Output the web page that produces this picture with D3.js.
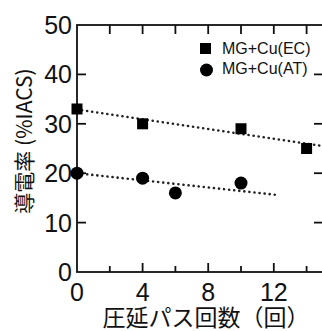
<!DOCTYPE html>
<html><head><meta charset="utf-8">
<script src="https://cdn.jsdelivr.net/npm/d3@7"></script>
<style>
html,body{margin:0;padding:0;background:#fff;overflow:hidden;}
svg{display:block;}
</style></head>
<body>
<svg id="c" width="322" height="331"></svg>
<script>
// Data
const passesEC = [0, 4, 10, 14];
const valuesEC = [33, 30, 29, 25];
const passesAT = [0, 4, 6, 10];
const valuesAT = [20, 19, 16, 18];
const trendEC = [[0, 32.9], [15, 25.5]];
const trendAT = [[0, 20.0], [12.2, 15.6]];
const xTicks = [0, 4, 8, 12];
const xMinorTicks = [2, 6, 10, 14];
const yTicks = [0, 10, 20, 30, 40, 50];
const legendLabels = ["MG+Cu(EC)", "MG+Cu(AT)"];
const xTitle = "圧延パス回数（回）";
const yTitle = "導電率 (%IACS)";

const svg = d3.select("#c");
const x = d3.scaleLinear().domain([0, 15]).range([77, 323]);
const y = d3.scaleLinear().domain([0, 50]).range([272, 25]);
const latin = "'Liberation Sans', Arial, Helvetica, sans-serif";
const cjk = "'Noto Sans CJK JP', 'Liberation Sans', sans-serif";

// frame
const g = svg.append("g");
g.append("rect").attr("x", x(0)).attr("y", y(50))
  .attr("width", x(15) - x(0)).attr("height", y(0) - y(50))
  .attr("fill", "none").attr("stroke", "#111").attr("stroke-width", 1.8);

// ticks inward
const major = 9, minor = 6;
xTicks.concat(xMinorTicks).forEach(t => {
  if (t === 0) return;
  const len = xTicks.includes(t) ? major : minor;
  g.append("line").attr("x1", x(t)).attr("x2", x(t)).attr("y1", y(0)).attr("y2", y(0) - len)
    .attr("stroke", "#111").attr("stroke-width", 1.8);
  g.append("line").attr("x1", x(t)).attr("x2", x(t)).attr("y1", y(50)).attr("y2", y(50) + major)
    .attr("stroke", "#111").attr("stroke-width", 1.8);
});
yTicks.forEach(t => {
  if (t === 0 || t === 50) return;
  g.append("line").attr("x1", x(0)).attr("x2", x(0) + major).attr("y1", y(t)).attr("y2", y(t))
    .attr("stroke", "#111").attr("stroke-width", 1.8);
  g.append("line").attr("x1", x(15)).attr("x2", x(15) - major).attr("y1", y(t)).attr("y2", y(t))
    .attr("stroke", "#111").attr("stroke-width", 1.8);
});

// tick labels
g.selectAll(".yl").data(yTicks).enter().append("text")
  .attr("x", x(0) - 5).attr("y", d => y(d) + 9)
  .attr("text-anchor", "end").attr("font-family", latin).attr("font-size", 25)
  .attr("fill", "#111").text(d => d);
g.selectAll(".xl").data(xTicks).enter().append("text")
  .attr("x", d => x(d)).attr("y", 301)
  .attr("text-anchor", "middle").attr("font-family", latin).attr("font-size", 25)
  .attr("fill", "#111").text(d => d);

// titles
svg.append("text").attr("x", 206).attr("y", 326).attr("text-anchor", "middle")
  .attr("font-family", cjk).attr("font-size", 23).attr("fill", "#111").text(xTitle);
svg.append("text").attr("transform", "translate(32,141) rotate(-90)").attr("text-anchor", "middle")
  .attr("font-family", cjk).attr("font-size", 21).attr("fill", "#111").text(yTitle);

// trend lines
const line = d3.line().x(d => x(d[0])).y(d => y(d[1]));
[trendEC, trendAT].forEach(tr => {
  svg.append("path").attr("d", line(tr)).attr("fill", "none").attr("stroke", "#222")
    .attr("stroke-width", 2.6).attr("stroke-dasharray", "0.1,5").attr("stroke-linecap", "round");
});

// markers
const ec = passesEC.map((p, i) => [p, valuesEC[i]]);
const at = passesAT.map((p, i) => [p, valuesAT[i]]);
svg.selectAll(".sq").data(ec).enter().append("rect")
  .attr("x", d => x(d[0]) - 5.5).attr("y", d => y(d[1]) - 5.5)
  .attr("width", 11).attr("height", 11).attr("fill", "#000");
svg.selectAll(".ci").data(at).enter().append("circle")
  .attr("cx", d => x(d[0])).attr("cy", d => y(d[1])).attr("r", 6.5).attr("fill", "#000");

// legend
svg.append("rect").attr("x", 200).attr("y", 43).attr("width", 11).attr("height", 11).attr("fill", "#000");
svg.append("circle").attr("cx", 206.5).attr("cy", 70).attr("r", 6.5).attr("fill", "#000");
legendLabels.forEach((l, i) => {
  svg.append("text").attr("x", 222).attr("y", 54 + i * 20).attr("font-family", latin)
    .attr("font-size", 16).attr("fill", "#111").text(l);
});
</script>
</body></html>
